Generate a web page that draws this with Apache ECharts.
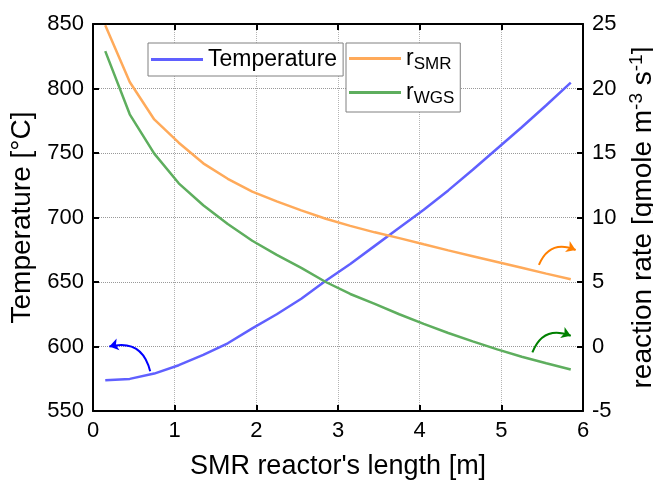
<!DOCTYPE html>
<html>
<head>
<meta charset="utf-8">
<script src="https://cdn.jsdelivr.net/npm/echarts@6/dist/echarts.min.js"></script>
<style>html,body{margin:0;padding:0;background:#fff;overflow:hidden}#c{width:653px;height:481px}</style>
</head>
<body>
<div id="c"></div>
<script>
// ---- data ----
const lengthM = [0.15,0.45,0.75,1.05,1.35,1.65,1.95,2.25,2.55,2.85,3.15,3.45,3.75,4.05,4.35,4.65,4.95,5.25,5.55,5.85];
const temperature = [573.8,574.9,579,585.5,593.5,602.5,614,625,637,651,664,678,692,706,721,737,753.5,770,787,804.6];
const rSMR = [24.9,20.5,17.6,15.8,14.2,13.0,12.0,11.25,10.55,9.9,9.35,8.85,8.4,7.92,7.45,7.0,6.55,6.1,5.65,5.22];
const rWGS = [22.9,18.0,14.95,12.65,10.95,9.5,8.2,7.1,6.1,5.0,4.07,3.3,2.5,1.75,1.05,0.4,-0.22,-0.8,-1.3,-1.78];
const xTicks = [0,1,2,3,4,5,6];
const tempTicks = [550,600,650,700,750,800,850];
const rateTicks = [-5,0,5,10,15,20,25];
// annotation arrows (data coords: [x, y])
const arrowTemp = [[0.70,580.8],[0.20,600]];
const arrowSMR = [[5.46,6.32],[5.91,7.48]];
const arrowWGS = [[5.38,-0.46],[5.85,0.83]];

const FONT = 'Liberation Sans, Arial, sans-serif';
const chart = echarts.init(document.getElementById('c'));
const pair = (xs, ys) => xs.map((x,i)=>[x, ys[i]]);

const axisCommon = {
  axisLine:{show:true, onZero:false, lineStyle:{color:'#000', width:2}},
  axisTick:{show:true, inside:true, length:6, lineStyle:{color:'#000', width:2}},
  axisLabel:{color:'#000', fontSize:22, fontFamily:FONT},
  nameTextStyle:{color:'#000', fontFamily:FONT}
};

chart.setOption({
  animation:false,
  backgroundColor:'#fff',
  grid:{left:93, right:70, top:24, bottom:70, containLabel:false, outerBoundsMode:'none'},
  xAxis:[
    Object.assign({}, axisCommon, {
      type:'value', min:xTicks[0], max:xTicks[xTicks.length-1], interval:1, position:'bottom',
      name:"SMR reactor's length [m]", nameLocation:'middle', nameGap:42,
      nameTextStyle:{color:'#000', fontFamily:FONT, fontSize:27},
      axisLabel:{color:'#000', fontSize:22, fontFamily:FONT, margin:9},
      splitLine:{show:true, lineStyle:{color:'#b4b4b4', type:'dotted', width:1}}
    }),
    Object.assign({}, axisCommon, {
      type:'value', min:xTicks[0], max:xTicks[xTicks.length-1], interval:1, position:'top',
      axisLabel:{show:false}, splitLine:{show:false}
    })
  ],
  yAxis:[
    Object.assign({}, axisCommon, {
      type:'value', min:tempTicks[0], max:tempTicks[tempTicks.length-1], interval:50, position:'left',
      name:'Temperature [°C]', nameLocation:'middle', nameGap:54,
      nameTextStyle:{color:'#000', fontFamily:FONT, fontSize:28},
      axisLabel:{color:'#000', fontSize:22, fontFamily:FONT, margin:9},
      splitLine:{show:true, lineStyle:{color:'#999999', type:'dotted', width:1}}
    }),
    Object.assign({}, axisCommon, {
      type:'value', min:rateTicks[0], max:rateTicks[rateTicks.length-1], interval:5, position:'right',
      name:'{n|reaction rate [gmole m}{sup|-3}{n| s}{sup|-1}{n|]}', nameLocation:'middle', nameGap:40,
      nameTextStyle:{color:'#000', fontFamily:FONT, fontSize:28,
        rich:{n:{fontSize:28, fontFamily:FONT, color:'#000'}, sup:{fontSize:19, fontFamily:FONT, color:'#000', verticalAlign:'top', padding:[0,0,12,0]}}},
      axisLabel:{color:'#000', fontSize:22, fontFamily:FONT, margin:9},
      splitLine:{show:true, lineStyle:{color:'#999999', type:'dotted', width:1}}
    })
  ],
  legend:[
    {
      data:['Temperature'], left:148, top:43, orient:'horizontal', icon:'rect',
      padding:[5,6,5,3], itemWidth:52, itemHeight:3, itemGap:0,
      backgroundColor:'#fff', borderColor:'#808080', borderWidth:1,
      textStyle:{fontSize:23, fontFamily:FONT, color:'#000'}
    },
    {
      data:['r_SMR','r_WGS'], left:346, top:43, orient:'vertical', icon:'rect',
      padding:[4,6,5,3], itemWidth:52, itemHeight:3, itemGap:8,
      backgroundColor:'#fff', borderColor:'#808080', borderWidth:1,
      formatter:function(n){ return n==='r_SMR' ? '{m|r}{s|SMR}' : '{m|r}{s|WGS}'; },
      textStyle:{fontSize:23, fontFamily:FONT, color:'#000',
        rich:{m:{fontSize:23, fontFamily:FONT, color:'#000'}, s:{fontSize:17, fontFamily:FONT, color:'#000', padding:[12,0,0,0]}}}
    }
  ],
  series:[
    {name:'Temperature', type:'line', xAxisIndex:0, yAxisIndex:0, data:pair(lengthM, temperature),
     symbol:'none', lineStyle:{color:'#6060ff', width:2.5}, itemStyle:{color:'#6060ff'}, z:3},
    {name:'r_SMR', type:'line', xAxisIndex:0, yAxisIndex:1, data:pair(lengthM, rSMR),
     symbol:'none', lineStyle:{color:'#ffaa5a', width:2.5}, itemStyle:{color:'#ffaa5a'}, z:3},
    {name:'r_WGS', type:'line', xAxisIndex:0, yAxisIndex:1, data:pair(lengthM, rWGS),
     symbol:'none', lineStyle:{color:'#5eae5e', width:2.5}, itemStyle:{color:'#5eae5e'}, z:3},
    {type:'lines', coordinateSystem:'cartesian2d', xAxisIndex:0, yAxisIndex:0,
     symbol:['none','arrow'], symbolSize:9,
     lineStyle:{color:'#0000ff', width:2, curveness:-0.5, opacity:1},
     data:[{coords:arrowTemp}], z:4},
    {type:'lines', coordinateSystem:'cartesian2d', xAxisIndex:0, yAxisIndex:1,
     symbol:['none','arrow'], symbolSize:9,
     lineStyle:{color:'#ff7f00', width:2, curveness:0.5, opacity:1},
     data:[{coords:arrowSMR}], z:4},
    {type:'lines', coordinateSystem:'cartesian2d', xAxisIndex:0, yAxisIndex:1,
     symbol:['none','arrow'], symbolSize:9,
     lineStyle:{color:'#008000', width:2, curveness:0.5, opacity:1},
     data:[{coords:arrowWGS}], z:4}
  ]
});
</script>
</body>
</html>
